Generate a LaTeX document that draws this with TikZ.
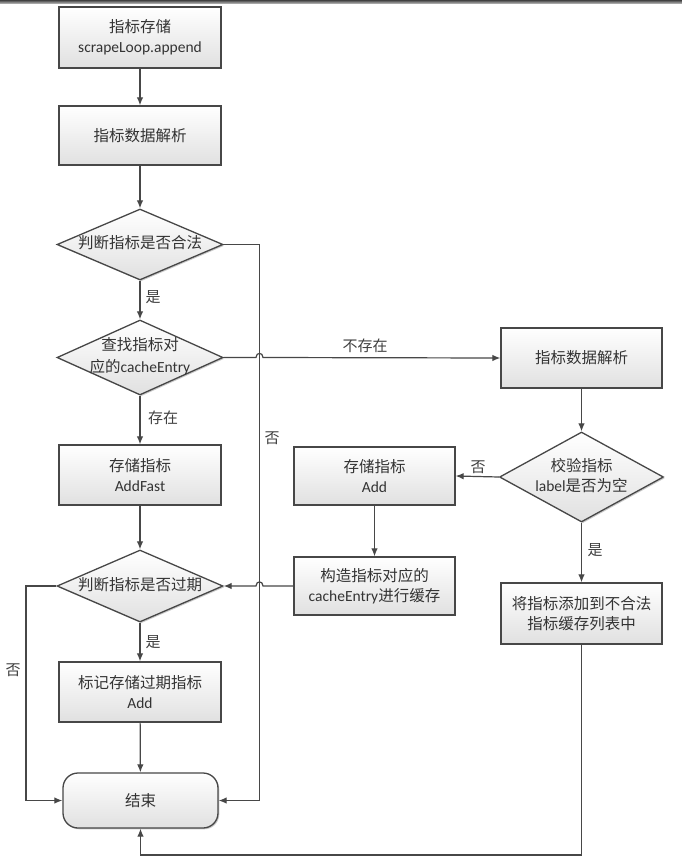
\documentclass[tikz,border=0pt]{standalone}
\usepackage{fontspec}
\setmainfont{Carlito}
\newfontfamily\cjk{Noto Sans CJK SC}
\usetikzlibrary{shapes.geometric,arrows.meta,shadows}
\newcommand{\zh}[1]{{\cjk #1}}
\newcommand{\dtext}[1]{\makebox[0pt][c]{\begin{tabular}{@{}c@{}}#1\end{tabular}}}
\begin{document}
\begin{tikzpicture}[x=1pt,y=-1pt,
 base/.style={draw=black!72,line width=1.3pt,top color=white,bottom color=black!12,
   drop shadow={shadow xshift=1.3pt,shadow yshift=-1.3pt,opacity=0.35,fill=black!60},
   font=\fontsize{15.5}{20}\selectfont,text=black!80,inner sep=0pt},
 box/.style={base,rectangle,align=center,minimum width=162pt,minimum height=60pt},
 dia/.style={base,diamond,aspect=2.3,minimum width=166pt,minimum height=72pt},
 term/.style={base,rectangle,align=center,rounded corners=15pt,minimum width=155pt,minimum height=55pt},
 ln/.style={draw=black!72,line width=1.2pt},
 arr/.style={ln,-{Latex[length=8pt,width=6.5pt]}},
 lab/.style={font=\fontsize{15}{18}\selectfont,text=black!75,inner sep=0pt}
]
\useasboundingbox[fill=white] (0,0) rectangle (682,862);
\shade[top color=black!75,bottom color=black!35] (0,0) rectangle (682,3);

% left column
\node[box,minimum height=61pt] (b1) at (140,37.5) {\zh{指标存储}\\scrapeLoop.append};
\node[box,minimum height=59pt] (b2) at (140,135.5) {\zh{指标数据解析}};
\node[dia,minimum height=71pt] (d1) at (140,244.5) {\dtext{\zh{判断指标是否合法}}};
\node[dia,minimum height=75pt] (d2) at (140,357.5) {\dtext{\zh{查找指标对}\\[2pt]\zh{应的}cacheEntry}};
\node[box] (b4) at (140,475) {\zh{存储指标}\\AddFast};
\node[dia] (d3) at (140,586) {\dtext{\zh{判断指标是否过期}}};
\node[box] (b5) at (140,692) {\zh{标记存储过期指标}\\Add};
\node[term] (end) at (140.5,800.5) {\zh{结束}};

% right columns
\node[box,minimum width=161pt] (b3) at (581.5,358) {\zh{指标数据解析}};
\node[dia,minimum width=164pt,minimum height=90pt] (d4) at (581.5,477) {\dtext{\zh{校验指标}\\label\zh{是否为空}}};
\node[box,minimum width=161pt,minimum height=58pt] (b6) at (374.5,476) {\zh{存储指标}\\Add};
\node[box,minimum width=161pt,minimum height=58pt] (b7) at (374.5,586) {\zh{构造指标对应的}\\cacheEntry\zh{进行缓存}};
\node[box,minimum width=161pt,minimum height=61pt] (b8) at (581.5,613.5) {\zh{将指标添加到不合法}\\\zh{指标缓存列表中}};

% helper coordinates
\coordinate (r1) at (259.5,800.5);
\coordinate (l1) at (26,800.5);
\coordinate (bt) at (581.5,855);

% connectors
\draw[arr] (b1) -- (b2);
\draw[arr] (b2) -- (d1);
\draw[arr] (d1) -- (d2);
\draw[arr] (d2) -- (b4);
\draw[arr] (b4) -- (d3);
\draw[arr] (d3) -- (b5);
\draw[arr] (b5) -- (end);
\draw[arr] (d1.east) -| (r1) -- (end.east);
\draw[arr] (d2.east) -- (256,357.5) .. controls (256,352) and (263,352) .. (263,357.5) -- (b3.west);
\draw[arr] (b3) -- (d4);
\draw[arr] (d4.west) -- (b6.east);
\draw[arr] (b6) -- (b7);
\draw[arr] (b7.west) -- (263,586) .. controls (263,580.5) and (256,580.5) .. (256,586) -- (d3.east);
\draw[arr] (d4) -- (b8);
\draw[arr] (b8.south) -- (bt) -| (end.south);
\draw[arr] (d3.west) -| (l1) -- (end.west);

% labels
\node[lab] (t1) at (153,297) {\zh{是}};
\node[lab] (t2) at (163,418) {\zh{存在}};
\node[lab] (t3) at (153,642) {\zh{是}};
\node[lab] (t4) at (272,438) {\zh{否}};
\node[lab] (t5) at (365,346) {\zh{不存在}};
\node[lab] (t6) at (478,467) {\zh{否}};
\node[lab] (t7) at (595,550) {\zh{是}};
\node[lab] (t8) at (13,670) {\zh{否}};
\end{tikzpicture}
\end{document}
